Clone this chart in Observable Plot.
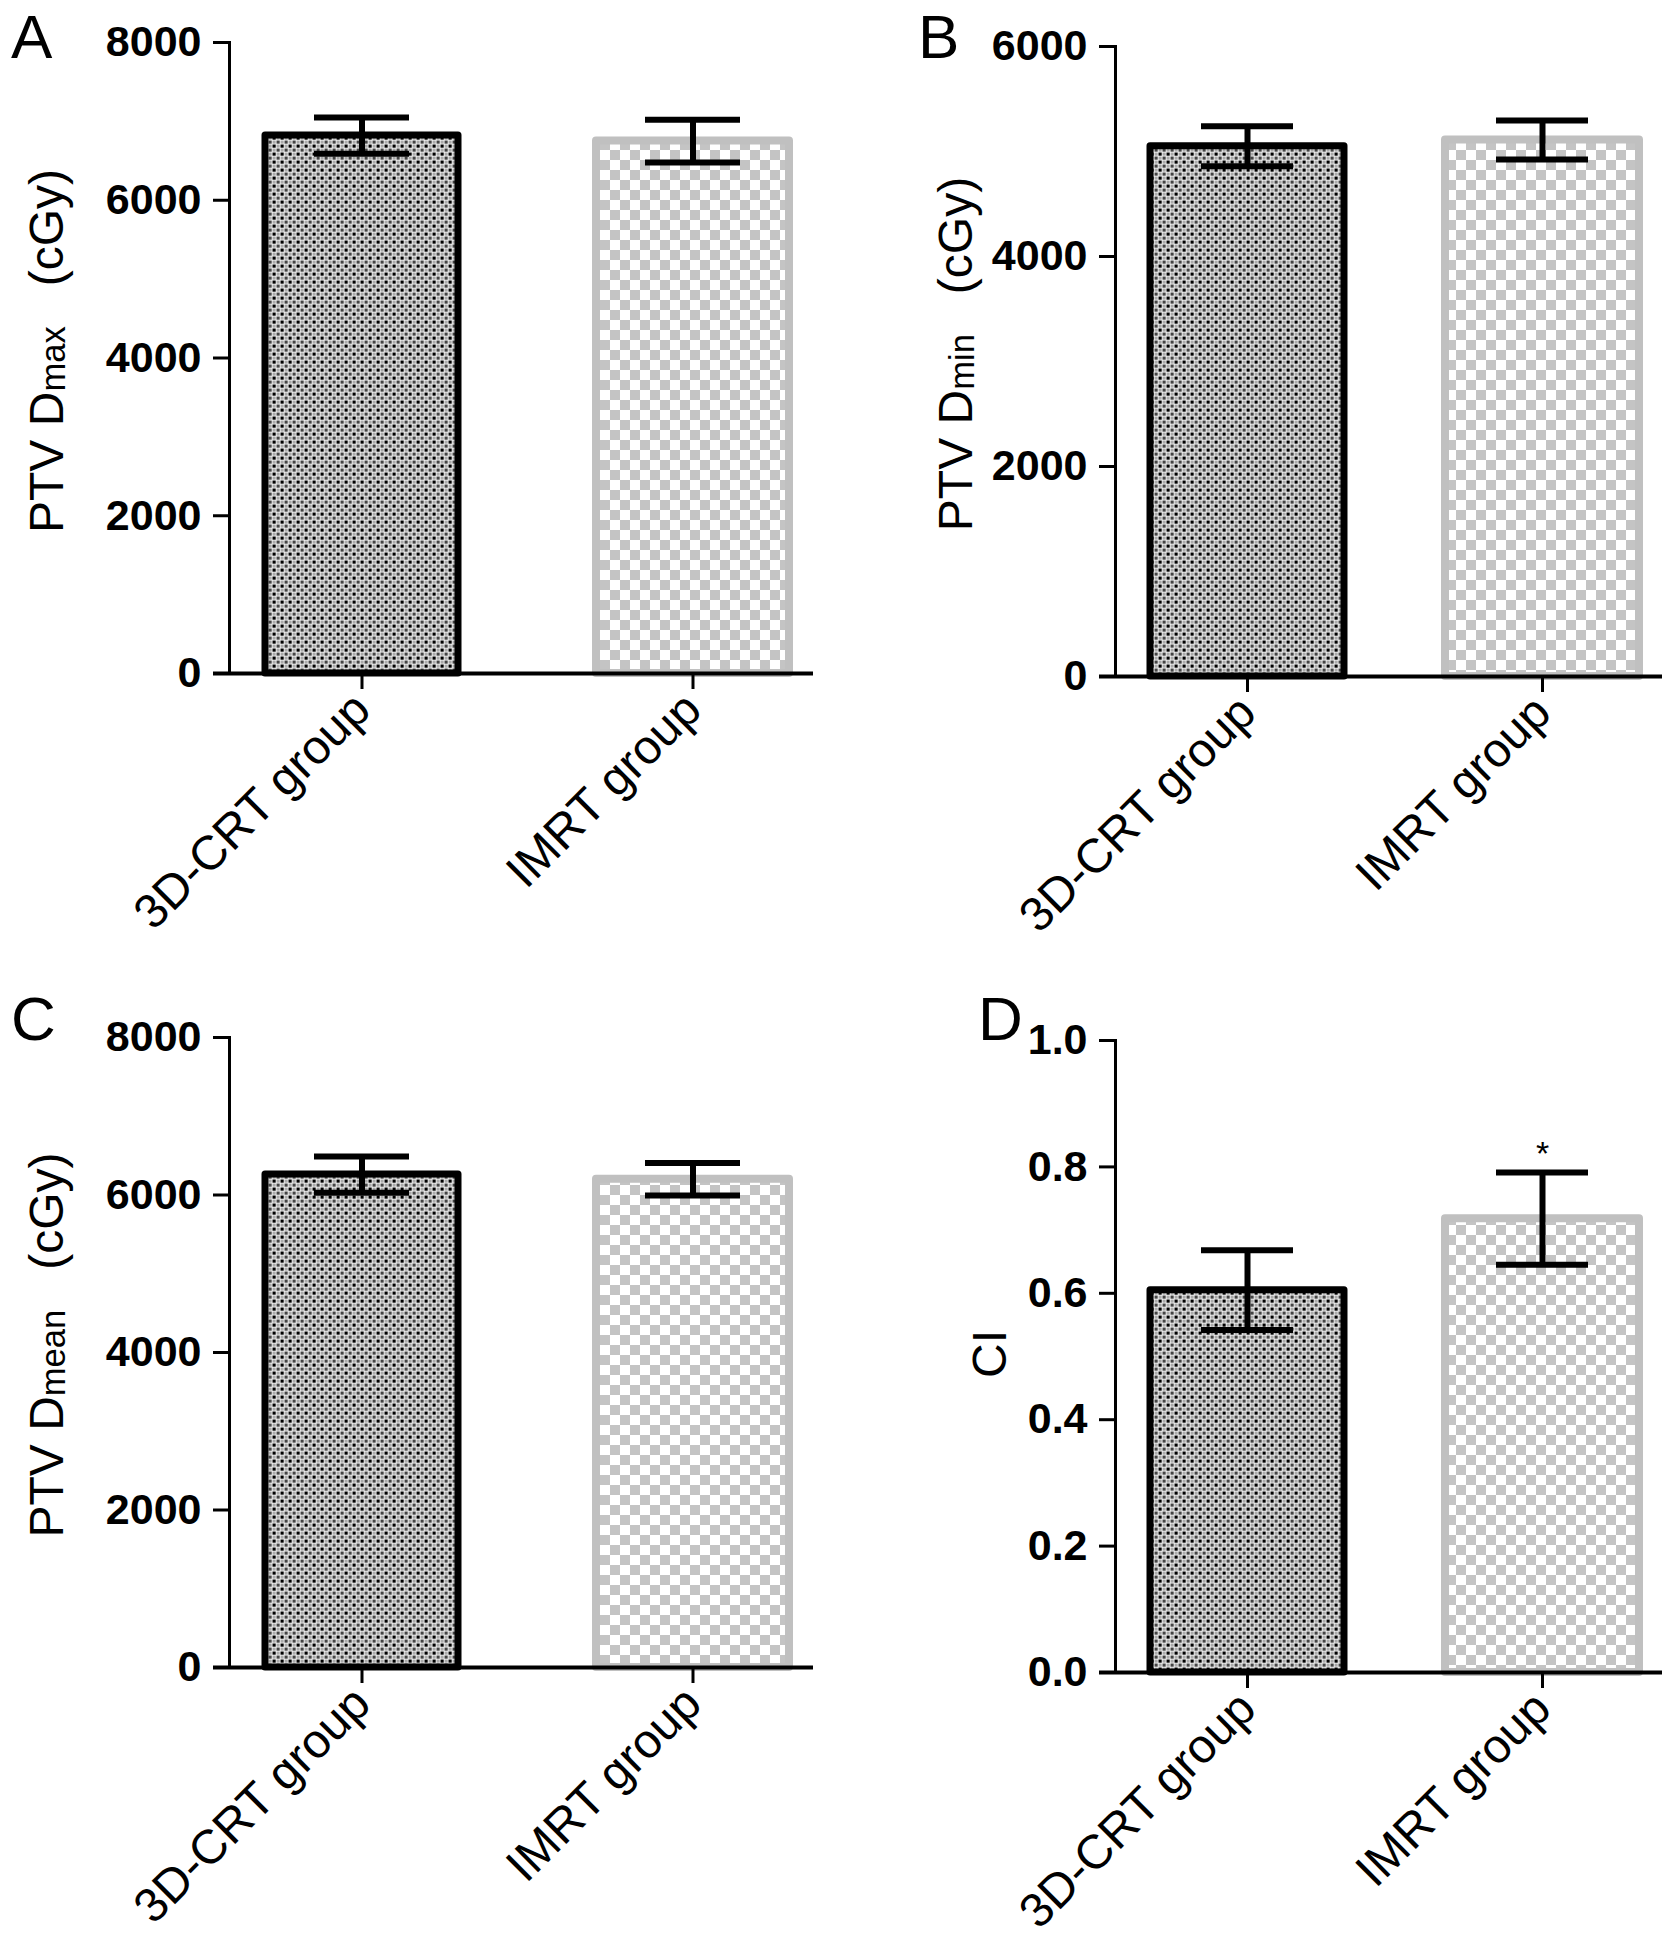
<!DOCTYPE html>
<html>
<head>
<meta charset="utf-8">
<script src="https://cdn.jsdelivr.net/npm/d3@7"></script>
<script src="https://cdn.jsdelivr.net/npm/@observablehq/plot@0.6"></script>
<style>
  body { margin: 0; background: white; }
  #fig { position: relative; width: 1677px; height: 1951px; background: white; font-family: "Liberation Sans", Arial, sans-serif; color: #000; }
  .panel { position: absolute; }
  .letter { position: absolute; font-size: 62px; line-height: 1; }
  .ylab { position: absolute; font-size: 48px; white-space: pre; line-height: 1; transform: translate(-50%, -50%) rotate(-90deg); }
  .ylab .sub { font-size: 0.72em; position: relative; top: 0.06em; }
</style>
</head>
<body>
<svg width="0" height="0" style="position:absolute">
  <defs>
    <pattern id="dots" width="8" height="8" patternUnits="userSpaceOnUse">
      <rect width="8" height="8" fill="#fff"></rect>
      <rect x="0.5" y="0.5" width="3.2" height="3.2" fill="#000"></rect>
      <rect x="4.5" y="0.5" width="3.2" height="3.2" fill="#aaa"></rect>
      <rect x="0.5" y="4.5" width="3.2" height="3.2" fill="#aaa"></rect>
      <rect x="4.5" y="4.5" width="3.2" height="3.2" fill="#444"></rect>
    </pattern>
    <pattern id="checker" width="20" height="20" patternUnits="userSpaceOnUse">
      <rect width="20" height="20" fill="#fff"></rect>
      <rect x="0" y="0" width="10" height="10" fill="#c4c4c4"></rect>
      <rect x="10" y="10" width="10" height="10" fill="#c4c4c4"></rect>
    </pattern>
  </defs>
</svg>
<div id="fig"></div>
<script>
// categories
const groups = ["3D-CRT group", "IMRT group"]

// A: PTV Dmax (cGy)
const dmaxMean = [6820, 6750]
const dmaxSd = [230, 270]
// B: PTV Dmin (cGy)
const dminMean = [5050, 5110]
const dminSd = [190, 185]
// C: PTV Dmean (cGy)
const dmeanMean = [6260, 6200]
const dmeanSd = [230, 205]
// D: CI
const ciMean = [0.605, 0.718]
const ciSd = [0.063, 0.073]
const ciSig = ["", "*"]

const cgyTicks8 = [0, 2000, 4000, 6000, 8000]
const cgyTicks6 = [0, 2000, 4000, 6000]
const ciTicks = [0, 0.2, 0.4, 0.6, 0.8, 1.0]

const letters = ["A", "B", "C", "D"]
const yLabels = [
  {main: "PTV D", sub: "max", unit: "(cGy)"},
  {main: "PTV D", sub: "min", unit: "(cGy)"},
  {main: "PTV D", sub: "mean", unit: "(cGy)"},
  {main: "CI", sub: "", unit: ""}
]

const barStyle = {
  "3D-CRT group": {fill: "url(#dots)", stroke: "#000", strokeWidth: 7},
  "IMRT group": {fill: "url(#checker)", stroke: "#c0c0c0", strokeWidth: 8}
}

function panel(o) {
  const rows = groups.map((g, i) => ({
    group: g,
    mean: o.mean[i],
    lo: o.mean[i] - o.sd[i],
    hi: o.mean[i] + o.sd[i],
    sig: o.sig ? o.sig[i] : ""
  }))
  const bars = groups.map(g => Plot.barY(rows.filter(d => d.group == g), {
    x: "group", y: "mean",
    fill: barStyle[g].fill, stroke: barStyle[g].stroke, strokeWidth: barStyle[g].strokeWidth,
    strokeLinejoin: "round"
  }))
  return Plot.plot({
    width: o.width,
    height: o.height,
    marginLeft: 229,
    marginRight: o.mr,
    marginTop: o.mt,
    marginBottom: o.mb,
    style: {fontFamily: "Liberation Sans, Arial, sans-serif", color: "#000", background: "white", overflow: "visible"},
    x: {domain: groups, paddingInner: o.pIn, paddingOuter: o.pOut, align: o.align},
    y: {domain: o.yDomain},
    marks: [
      ...bars,
      Plot.ruleX(rows, {x: "group", y1: "lo", y2: "hi", stroke: "#000", strokeWidth: 6}),
      Plot.tickY(rows, {x: "group", y: "hi", stroke: "#000", strokeWidth: 6, insetLeft: o.cap, insetRight: o.cap}),
      Plot.tickY(rows, {x: "group", y: "lo", stroke: "#000", strokeWidth: 6, insetLeft: o.cap, insetRight: o.cap}),
      Plot.text(rows, {x: "group", y: "hi", text: "sig", lineAnchor: "bottom", dy: -8, fontSize: 34}),
      Plot.ruleY([o.yDomain[0]], {stroke: "#000", strokeWidth: 4, insetLeft: -16}),
      Plot.frame({anchor: "left", stroke: "#000", strokeWidth: 3}),
      Plot.axisY({
        ticks: o.yTicks, tickFormat: o.fmt, tickSize: 16, tickPadding: 12,
        fontSize: 43, fontWeight: "bold", strokeWidth: 3, label: null
      }),
      Plot.axisX({
        tickSize: 16, tickPadding: 12, tickRotate: -45,
        fontSize: 48, strokeWidth: 3, label: null
      })
    ]
  })
}

const leftCol = {width: 838, mr: 25, pIn: 0.417, pOut: 0.09, align: 0.6, cap: 49}
const rightCol = {width: 791, mr: 15, pIn: 0.342, pOut: 0.098, align: 0.6, cap: 51}

const specs = [
  {...leftCol, left: 0, top: 0, height: 975, mt: 42, mb: 302,
    mean: dmaxMean, sd: dmaxSd, yDomain: [0, 8000], yTicks: cgyTicks8, fmt: d3.format("d"),
    letterPos: [11, 6], labPos: [47, 351]},
  {...rightCol, left: 886, top: 0, height: 975, mt: 46, mb: 299,
    mean: dminMean, sd: dminSd, yDomain: [0, 6000], yTicks: cgyTicks6, fmt: d3.format("d"),
    letterPos: [918, 6], labPos: [956, 354]},
  {...leftCol, left: 0, top: 995, height: 956, mt: 42, mb: 284,
    mean: dmeanMean, sd: dmeanSd, yDomain: [0, 8000], yTicks: cgyTicks8, fmt: d3.format("d"),
    letterPos: [11, 988], labPos: [47, 1345]},
  {...rightCol, left: 886, top: 995, height: 956, mt: 45, mb: 279,
    mean: ciMean, sd: ciSd, sig: ciSig, yDomain: [0, 1], yTicks: ciTicks, fmt: d3.format(".1f"),
    letterPos: [978, 988], labPos: [990, 1354]}
]

const fig = d3.select('#fig')
specs.forEach((s, i) => {
  const chart = panel(s)
  fig.append('div')
    .attr('class', 'panel')
    .style('left', s.left + 'px')
    .style('top', s.top + 'px')
    .append(() => chart)
  fig.append('div')
    .attr('class', 'letter')
    .style('left', s.letterPos[0] + 'px')
    .style('top', s.letterPos[1] + 'px')
    .text(letters[i])
  const lab = fig.append('div')
    .attr('class', 'ylab')
    .style('left', s.labPos[0] + 'px')
    .style('top', s.labPos[1] + 'px')
  lab.append('span').text(yLabels[i].main)
  if (yLabels[i].sub) lab.append('span').attr('class', 'sub').text(yLabels[i].sub)
  if (yLabels[i].unit) lab.append('span').text('   ' + yLabels[i].unit)
})
</script>
</body>
</html>
